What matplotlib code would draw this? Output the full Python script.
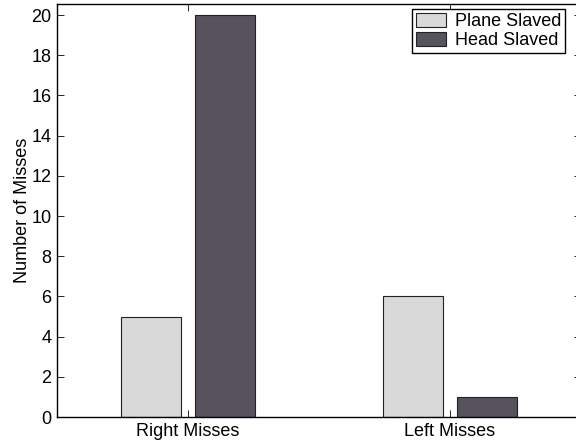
import matplotlib
matplotlib.use("Agg")
import matplotlib.pyplot as plt
import numpy as np

categories = ["Right Misses", "Left Misses"]
series_names = ["Plane Slaved", "Head Slaved"]
plane_slaved = [5, 6]
head_slaved = [20, 1]
yticks = [0, 2, 4, 6, 8, 10, 12, 14, 16, 18, 20]

plt.rcParams['font.family'] = ['Liberation Sans', 'DejaVu Sans']

fig = plt.figure(figsize=(5.76, 4.44), dpi=100)
ax = fig.add_axes([57/576, 27/444, 524/576, 413/444])

x = np.arange(1, len(categories) + 1)
w = 0.229
off = 0.143
ax.bar(x - off, plane_slaved, w, color='#d9d9d9', edgecolor='#222222', linewidth=0.8, label=series_names[0])
ax.bar(x + off, head_slaved, w, color='#56525e', edgecolor='#222222', linewidth=0.8, label=series_names[1])

ax.set_xlim(0.5, 2.5)
ax.set_ylim(0, 20.55)
ax.set_xticks(x)
ax.set_xticklabels(categories)
ax.set_yticks(yticks)
ax.tick_params(direction='in', top=True, right=True, labelsize=13, length=5, width=0.6, pad=4)
for s in ax.spines.values():
    s.set_linewidth(1.0)
ax.set_ylabel("Number of Misses", fontsize=13, labelpad=0)

leg = ax.legend(loc='upper right', bbox_to_anchor=(565/576, 1 - 9/444), bbox_transform=fig.transFigure,
                fontsize=13, frameon=True, fancybox=False, edgecolor='black', framealpha=1,
                borderpad=0.2, labelspacing=0.12, handlelength=1.67, handleheight=0.83, handletextpad=0.5,
                borderaxespad=0)
leg.get_frame().set_linewidth(1.0)

fig.savefig("out.png", dpi=100)
